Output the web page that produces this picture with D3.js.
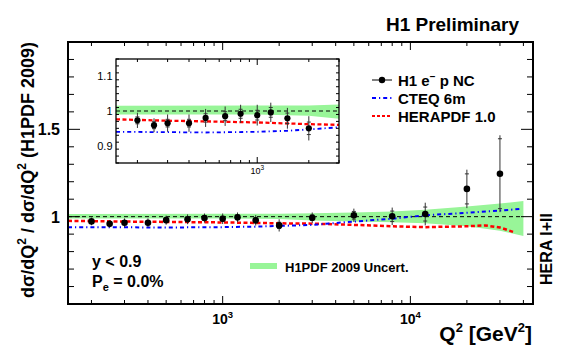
<!DOCTYPE html>
<html>
<head>
<meta charset="utf-8">
<script src="https://cdn.jsdelivr.net/npm/d3@7"></script>
<style>
  html, body { margin: 0; padding: 0; background: #fff; }
  svg { display: block; font-family: "Liberation Sans", Arial, Helvetica, sans-serif; }
  .bold { font-weight: bold; }
</style>
</head>
<body>
<svg id="chart" width="567" height="354"></svg>
<script>
// ---- Data ----
const q2 = [200, 250, 300, 400, 500, 650, 800, 1000, 1200, 1500, 2000,
            3000, 5000, 8000, 12000, 20000, 30000];
const ratio = [0.973, 0.959, 0.965, 0.965, 0.980, 0.985, 0.992, 0.988, 0.996, 0.979, 0.950,
               0.994, 1.008, 1.002, 1.015, 1.159, 1.246];
const statErr = [0.010, 0.010, 0.011, 0.011, 0.012, 0.013, 0.013, 0.014, 0.014, 0.015, 0.018,
                 0.016, 0.022, 0.030, 0.040, 0.086, 0.200];
const totErr = [0.022, 0.020, 0.025, 0.025, 0.026, 0.028, 0.026, 0.030, 0.028, 0.030, 0.035,
                0.030, 0.038, 0.050, 0.065, 0.110, 0.220];

const bandQ2 = [150, 1000, 2000, 3000, 5000, 8000, 12000, 20000, 30000, 40000];
const bandLo = [0.990, 0.990, 0.986, 0.978, 0.972, 0.968, 0.962, 0.945, 0.920, 0.890];
const bandHi = [1.015, 1.016, 1.016, 1.019, 1.024, 1.030, 1.040, 1.058, 1.075, 1.090];

const cteqQ2 = [150, 300, 500, 1000, 1500, 2000, 3000, 5000, 8000, 12000, 20000, 30000, 39000];
const cteqRatio = [0.940, 0.939, 0.938, 0.940, 0.943, 0.947, 0.953, 0.972, 0.988, 1.008, 1.022, 1.035, 1.045];

const heraQ2 = [150, 300, 500, 1000, 2000, 3000, 5000, 8000, 12000, 20000, 25000, 30000, 35500];
const heraRatio = [0.976, 0.972, 0.970, 0.967, 0.962, 0.960, 0.953, 0.945, 0.940, 0.945, 0.950, 0.938, 0.912];

const mainYTicks = [1, 1.5];
const insetYTicks = [0.9, 1, 1.1];

// ---- Layout ----
const svg = d3.select("#chart");
const M = { left: 68, top: 42, right: 533, bottom: 304 };
const I = { left: 116, top: 59, right: 339, bottom: 163 };

const x = d3.scaleLog().domain([150, 45000]).range([M.left, M.right]);
const y = d3.scaleLinear().domain([0.5, 2.0]).range([M.bottom, M.top]);
const xi = d3.scaleLog().domain([150, 3000]).range([I.left, I.right]);
const yi = d3.scaleLinear().domain([0.85, 1.15]).range([I.bottom, I.top]);

const defs = svg.append("defs");
defs.append("clipPath").attr("id", "clipMain").append("rect")
  .attr("x", M.left).attr("y", M.top).attr("width", M.right - M.left).attr("height", M.bottom - M.top);
defs.append("clipPath").attr("id", "clipInset").append("rect")
  .attr("x", I.left).attr("y", I.top).attr("width", I.right - I.left).attr("height", I.bottom - I.top);

// log ticks: every integer multiple of a power of ten inside the domain
function logTicks(dom) {
  const out = [];
  for (let p = 1; p <= 5; p++) {
    for (let m = 1; m <= 9; m++) {
      const v = m * Math.pow(10, p);
      if (v >= dom[0] && v <= dom[1]) out.push({ v, major: m === 1 });
    }
  }
  return out;
}

function drawPanel(g, xs, ys, clipId, opt) {
  const [x0, x1] = xs.range();
  const [y0, y1] = ys.range();   // y0 bottom, y1 top
  const body = g.append("g").attr("clip-path", `url(#${clipId})`);

  // uncertainty band
  const band = bandQ2.map((q, i) => ({ q, lo: bandLo[i], hi: bandHi[i] }));
  body.append("path")
    .datum(band)
    .attr("fill", "#98f598")
    .attr("d", d3.area().x(d => xs(d.q)).y0(d => ys(d.lo)).y1(d => ys(d.hi)));

  // reference line at 1
  body.append("line")
    .attr("x1", x0).attr("x2", opt.refEnd ? xs(opt.refEnd) : x1)
    .attr("y1", ys(1)).attr("y2", ys(1))
    .attr("stroke", "#000").attr("stroke-width", 1).attr("stroke-dasharray", "4,3");

  const line = d3.line().x(d => xs(d[0])).y(d => ys(d[1]));
  body.append("path")
    .datum(heraQ2.map((q, i) => [q, heraRatio[i]]))
    .attr("fill", "none").attr("stroke", "#ff0000")
    .attr("stroke-width", opt.lw + 0.5).attr("stroke-dasharray", "4,2.5")
    .attr("d", line);
  body.append("path")
    .datum(cteqQ2.map((q, i) => [q, cteqRatio[i]]))
    .attr("fill", "none").attr("stroke", "#0000ff")
    .attr("stroke-width", opt.lw).attr("stroke-dasharray", "4,3,1.2,3")
    .attr("d", line);

  // data points
  const pts = q2.map((q, i) => ({ q, v: ratio[i], s: statErr[i], t: totErr[i] }))
    .filter(d => d.q < xs.domain()[1]);
  const pg = body.append("g");
  pg.selectAll("line.err").data(pts).join("line")
    .attr("class", "err")
    .attr("x1", d => xs(d.q)).attr("x2", d => xs(d.q))
    .attr("y1", d => ys(d.v - d.t)).attr("y2", d => ys(d.v + d.t))
    .attr("stroke", "#333").attr("stroke-width", 1);
  [-1, 1].forEach(sg => {
    pg.selectAll(`line.stat${sg}`).data(pts).join("line")
      .attr("class", `stat${sg}`)
      .attr("x1", d => xs(d.q) - 2).attr("x2", d => xs(d.q) + 2)
      .attr("y1", d => ys(d.v + sg * d.s)).attr("y2", d => ys(d.v + sg * d.s))
      .attr("stroke", "#333").attr("stroke-width", 1);
  });
  pg.selectAll("circle").data(pts).join("circle")
    .attr("cx", d => xs(d.q)).attr("cy", d => ys(d.v)).attr("r", opt.r)
    .attr("fill", "#000");

  // ticks
  const ax = g.append("g").attr("stroke", "#000").attr("stroke-width", 1);
  logTicks(xs.domain()).forEach(t => {
    const L = t.major ? opt.xMaj : opt.xMin;
    const px = xs(t.v);
    ax.append("line").attr("x1", px).attr("x2", px).attr("y1", y0).attr("y2", y0 - L);
    ax.append("line").attr("x1", px).attr("x2", px).attr("y1", y1).attr("y2", y1 + L);
  });
  const [d0, d1] = ys.domain();
  const nMin = Math.round((d1 - d0) / opt.yStep);
  for (let k = 0; k <= nMin; k++) {
    const v = d0 + k * opt.yStep;
    const major = Math.abs(v / opt.yMajStep - Math.round(v / opt.yMajStep)) < 1e-6;
    const L = major ? opt.yMaj : opt.yMin;
    const py = ys(v);
    ax.append("line").attr("x1", x0).attr("x2", x0 + L).attr("y1", py).attr("y2", py);
    ax.append("line").attr("x1", x1).attr("x2", x1 - L).attr("y1", py).attr("y2", py);
  }

  // frame
  g.append("rect")
    .attr("x", x0).attr("y", y1).attr("width", x1 - x0).attr("height", y0 - y1)
    .attr("fill", "none").attr("stroke", "#000").attr("stroke-width", opt.frame);
}

// ---- Main panel ----
const main = svg.append("g");
drawPanel(main, x, y, "clipMain", {
  r: 3.3, lw: 2, refEnd: 40000,
  xMaj: 8, xMin: 4, yStep: 0.1, yMajStep: 0.5, yMaj: 12, yMin: 6, frame: 2
});

// main tick labels
main.selectAll("text.ylab").data(mainYTicks).join("text")
  .attr("class", "ylab bold")
  .attr("x", 60).attr("y", d => y(d) + 6)
  .attr("text-anchor", "end").attr("font-size", 16)
  .text(d => d);

[[1000, "3"], [10000, "4"]].forEach(([v, e]) => {
  const t = main.append("text").attr("class", "bold")
    .attr("x", x(v)).attr("y", 324).attr("text-anchor", "middle").attr("font-size", 14);
  t.append("tspan").text("10");
  t.append("tspan").attr("dy", -6).attr("font-size", 9.5).text(e);
});

// ---- Inset panel ----
const inset = svg.append("g");
inset.append("rect")
  .attr("x", I.left).attr("y", I.top).attr("width", I.right - I.left).attr("height", I.bottom - I.top)
  .attr("fill", "#fff");
drawPanel(inset, xi, yi, "clipInset", {
  r: 3.1, lw: 1.8, refEnd: null,
  xMaj: 6, xMin: 3, yStep: 0.02, yMajStep: 0.1, yMaj: 6, yMin: 3, frame: 1.3
});
inset.selectAll("text.iylab").data(insetYTicks).join("text")
  .attr("x", 112.5).attr("y", d => yi(d) + 4)
  .attr("text-anchor", "end").attr("font-size", 11)
  .text(d => d);
{
  const t = inset.append("text")
    .attr("x", xi(1000)).attr("y", 174).attr("text-anchor", "middle").attr("font-size", 9);
  t.append("tspan").text("10");
  t.append("tspan").attr("dy", -4).attr("font-size", 6.5).text("3");
}

// ---- Legend ----
const leg = svg.append("g");
leg.append("line").attr("x1", 372).attr("x2", 392).attr("y1", 80).attr("y2", 80)
  .attr("stroke", "#000").attr("stroke-width", 1);
leg.append("circle").attr("cx", 382).attr("cy", 80).attr("r", 3.2).attr("fill", "#000");
leg.append("line").attr("x1", 372).attr("x2", 392).attr("y1", 98).attr("y2", 98)
  .attr("stroke", "#0000ff").attr("stroke-width", 1.8).attr("stroke-dasharray", "4,3,1.2,3");
leg.append("line").attr("x1", 372).attr("x2", 392).attr("y1", 116).attr("y2", 116)
  .attr("stroke", "#ff0000").attr("stroke-width", 2).attr("stroke-dasharray", "3,2");
{
  const t = leg.append("text").attr("class", "bold").attr("x", 398).attr("y", 85.5).attr("font-size", 15);
  t.append("tspan").text("H1 e");
  t.append("tspan").attr("dy", -6).attr("font-size", 10).text("\u2212");
  t.append("tspan").attr("dy", 6).text(" p NC");
}
leg.append("text").attr("class", "bold").attr("x", 398).attr("y", 103.5).attr("font-size", 15).text("CTEQ 6m");
leg.append("text").attr("class", "bold").attr("x", 398).attr("y", 121.5).attr("font-size", 15).text("HERAPDF 1.0");

leg.append("rect").attr("x", 250).attr("y", 263).attr("width", 27).attr("height", 6).attr("fill", "#98f598");
leg.append("text").attr("class", "bold").attr("x", 285).attr("y", 271.5).attr("font-size", 13)
  .text("H1PDF 2009 Uncert.");

// ---- Annotations ----
svg.append("text").attr("class", "bold").attr("x", 519).attr("y", 31)
  .attr("text-anchor", "end").attr("font-size", 19).text("H1 Preliminary");

svg.append("text").attr("class", "bold").attr("x", 92).attr("y", 267).attr("font-size", 16).text("y < 0.9");
{
  const t = svg.append("text").attr("class", "bold").attr("x", 92).attr("y", 287).attr("font-size", 16);
  t.append("tspan").text("P");
  t.append("tspan").attr("dy", 4).attr("font-size", 11).text("e");
  t.append("tspan").attr("dy", -4).text(" = 0.0%");
}

svg.append("text").attr("class", "bold")
  .attr("transform", "translate(552,249) rotate(-90)")
  .attr("text-anchor", "middle").attr("font-size", 16).text("HERA I+II");

// axis titles
{
  const t = svg.append("text").attr("class", "bold")
    .attr("x", 532).attr("y", 341).attr("text-anchor", "end").attr("font-size", 21);
  t.append("tspan").text("Q");
  t.append("tspan").attr("dy", -9).attr("font-size", 13).text("2");
  t.append("tspan").attr("dy", 9).text(" [GeV");
  t.append("tspan").attr("dy", -9).attr("font-size", 13).text("2");
  t.append("tspan").attr("dy", 9).text("]");
}
{
  const t = svg.append("text").attr("class", "bold")
    .attr("transform", "translate(34,170) rotate(-90)")
    .attr("text-anchor", "middle").attr("font-size", 18);
  t.append("tspan").text("d\u03c3/dQ");
  t.append("tspan").attr("dy", -8).attr("font-size", 12).text("2");
  t.append("tspan").attr("dy", 8).text(" / d\u03c3/dQ");
  t.append("tspan").attr("dy", -8).attr("font-size", 12).text("2");
  t.append("tspan").attr("dy", 8).text(" (H1PDF 2009)");
}
</script>
</body>
</html>
